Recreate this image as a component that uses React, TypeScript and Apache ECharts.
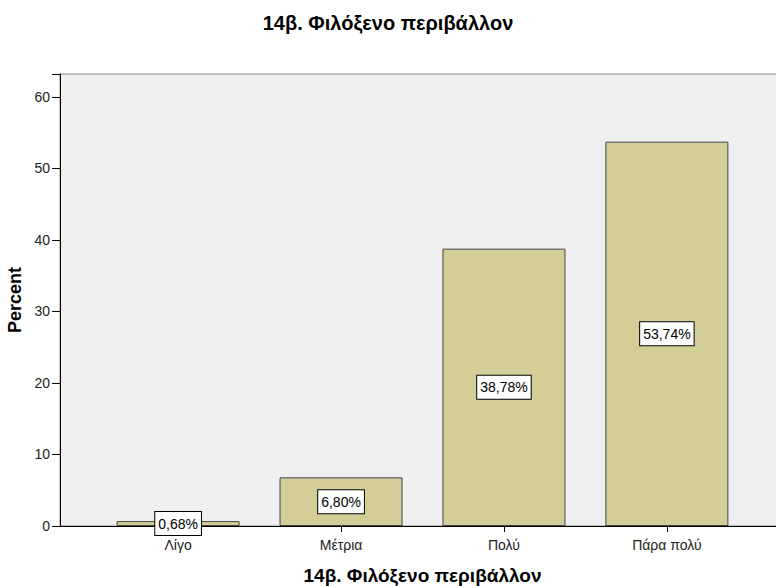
import React, { useEffect, useRef } from "react";
import * as echarts from "echarts";

const categories = ["Λίγο", "Μέτρια", "Πολύ", "Πάρα πολύ"];
const percents = [0.68, 6.8, 38.78, 53.74];
const yTicks = [0, 10, 20, 30, 40, 50, 60];
const chartTitle = "14β. Φιλόξενο περιβάλλον";
const yTitle = "Percent";

const FONT = "Arial, 'Liberation Sans', sans-serif";

export default function App() {
  const ref = useRef<HTMLDivElement>(null);
  useEffect(() => {
    if (!ref.current) return;
    document.body.style.margin = "0";
    document.body.style.overflow = "hidden";
    const chart = echarts.init(ref.current, null, { renderer: "svg" });
    chart.setOption({
      animation: false,
      backgroundColor: "#ffffff",
      textStyle: { fontFamily: FONT },
      title: {
        text: chartTitle,
        left: "center",
        top: 8,
        textStyle: { fontSize: 20, fontWeight: "bold", color: "#000", fontFamily: FONT },
      },
      grid: {
        left: 60,
        width: 725,
        top: 74,
        bottom: 60,
        outerBoundsMode: "none",
        containLabel: false,
        show: true,
        backgroundColor: "#efefef",
        borderColor: "#8a8a8a",
        borderWidth: 1,
      },
      xAxis: {
        type: "value",
        min: -0.725,
        max: 3.725,
        name: chartTitle,
        nameLocation: "middle",
        nameGap: 40,
        nameTextStyle: { fontSize: 19, fontWeight: "bold", color: "#000", fontFamily: FONT },
        axisLine: { show: true, onZero: false, lineStyle: { color: "#000", width: 1 } },
        axisTick: { show: true, length: 6, customValues: [0, 1, 2, 3], lineStyle: { color: "#000" } },
        axisLabel: {
          customValues: [0, 1, 2, 3],
          formatter: (v: number) => categories[Math.round(v)] ?? "",
          fontSize: 14,
          color: "#222",
          margin: 12,
          fontFamily: FONT,
        },
        splitLine: { show: false },
      },
      yAxis: {
        type: "value",
        min: 0,
        max: 63.2,
        interval: 10,
        name: yTitle,
        nameLocation: "middle",
        nameRotate: 90,
        nameGap: 30,
        nameTextStyle: { fontSize: 18, fontWeight: "bold", color: "#000", fontFamily: FONT },
        axisLine: { show: true, onZero: false, lineStyle: { color: "#000", width: 1 } },
        axisTick: { show: true, length: 8, lineStyle: { color: "#000" } },
        axisLabel: {
          fontSize: 14,
          color: "#222",
          margin: 10,
          fontFamily: FONT,
          formatter: (v: number) => (yTicks.includes(v) ? String(v) : ""),
        },
        splitLine: { show: false },
      },
      series: [
        {
          type: "bar",
          data: percents.map((p, i) => [i, p]),
          barWidth: 123,
          itemStyle: { color: "#d3ce97", borderColor: "#444", borderWidth: 1 },
          label: {
            show: true,
            position: "inside",
            formatter: (p: any) => p.value[1].toFixed(2).replace(".", ",") + "%",
            color: "#000",
            fontSize: 14,
            fontFamily: FONT,
            backgroundColor: "#fff",
            borderColor: "#000",
            borderWidth: 1,
            padding: [5, 3, 4, 3],
          },
        },
      ],
    });
    return () => chart.dispose();
  }, []);
  return (
    <div
      style={{ position: "absolute", left: 0, top: 0, width: 776, height: 586, overflow: "hidden" }}
    >
      <div ref={ref} style={{ width: 776, height: 586 }} />
    </div>
  );
}
